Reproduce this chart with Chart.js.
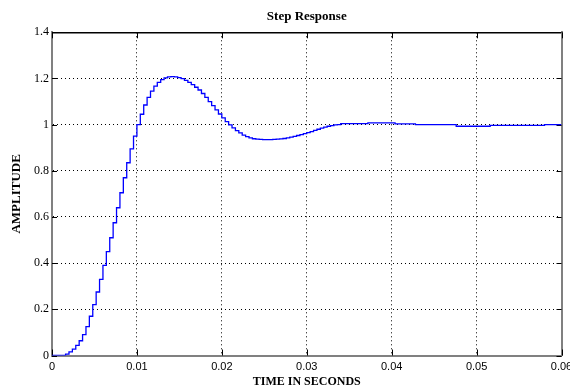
<!DOCTYPE html>
<html>
<head>
<meta charset="utf-8">
<title>Step Response</title>
<script src="https://cdn.jsdelivr.net/npm/chart.js@4.4.0/dist/chart.umd.min.js"></script>
<style>
    body { margin: 0; background: #fff; }
    #wrap { width: 570px; height: 391px; }
</style>
</head>
<body>
<div id="wrap"><canvas id="stepChart" width="570" height="391"></canvas></div>
<script>
// Step response (zero-order hold, one sample every 0.4 ms)
const sampleStep = 0.0004;
const amplitude = [
    0, 0, 0, 0, 0.006, 0.016, 0.028, 0.044, 0.064, 0.09,
    0.125, 0.17, 0.22, 0.275, 0.33, 0.39, 0.45, 0.51, 0.575, 0.64,
    0.705, 0.77, 0.835, 0.895, 0.95, 1.0, 1.045, 1.085, 1.118, 1.145,
    1.167, 1.183, 1.195, 1.203, 1.207, 1.208, 1.207, 1.204, 1.199, 1.192,
    1.183, 1.173, 1.162, 1.15, 1.135, 1.118, 1.1, 1.082, 1.064, 1.046,
    1.029, 1.013, 0.999, 0.986, 0.974, 0.964, 0.955, 0.948, 0.943, 0.939,
    0.937, 0.936, 0.935, 0.935, 0.935, 0.936, 0.937, 0.938, 0.94, 0.943,
    0.946, 0.949, 0.953, 0.957, 0.961, 0.965, 0.97, 0.975, 0.98, 0.985,
    0.989, 0.993, 0.996, 0.999, 1.0, 1.004, 1.004, 1.004, 1.004, 1.004,
    1.004, 1.004, 1.004, 1.008, 1.008, 1.008, 1.008, 1.008, 1.008, 1.008,
    1.008, 1.003, 1.003, 1.003, 1.003, 1.003, 1.003, 1.0, 1.0, 1.0,
    1.0, 1.0, 1.0, 1.0, 1.0, 1.0, 1.0, 1.0, 1.0, 0.993,
    0.993, 0.993, 0.993, 0.993, 0.993, 0.993, 0.993, 0.993, 0.993, 0.997,
    0.997, 0.997, 0.997, 0.997, 0.997, 0.997, 0.997, 0.997, 0.997, 0.997,
    0.997, 0.997, 0.997, 0.997, 0.997, 1.0, 1.0, 1.0, 1.0, 1.0,
    1.0
];

const xTicks = [0, 0.01, 0.02, 0.03, 0.04, 0.05, 0.06];
const xTickLabels = ['0', '0.01', '0.02', '0.03', '0.04', '0.05', '0.06'];
const yTicks = [0, 0.2, 0.4, 0.6, 0.8, 1, 1.2, 1.4];
const yTickLabels = ['0', '0.2', '0.4', '0.6', '0.8', '1', '1.2', '1.4'];

const points = amplitude.map((v, i) => ({ x: i * sampleStep, y: v }));

const serif = '"Liberation Serif", "Times New Roman", serif';
const sans = '"Liberation Sans", Arial, sans-serif';
const axisGrey = '#808080';

// MATLAB style tick marks pointing into the plot box
const innerTicks = {
    id: 'innerTicks',
    beforeDatasetsDraw(chart) {
        const { ctx, chartArea: a, scales: { x, y } } = chart;
        ctx.save();
        ctx.strokeStyle = '#000';
        ctx.lineWidth = 1;
        ctx.beginPath();
        xTicks.forEach(v => {
            const px = Math.round(x.getPixelForValue(v)) + 0.5;
            ctx.moveTo(px, a.bottom);
            ctx.lineTo(px, a.bottom - 6);
            ctx.moveTo(px, a.top);
            ctx.lineTo(px, a.top + 6);
        });
        yTicks.forEach(v => {
            const py = Math.round(y.getPixelForValue(v)) + 0.5;
            ctx.moveTo(a.left, py);
            ctx.lineTo(a.left + 5, py);
            ctx.moveTo(a.right, py);
            ctx.lineTo(a.right - 5, py);
        });
        ctx.stroke();
        ctx.restore();
    }
};

const ctx = document.getElementById('stepChart').getContext('2d');
new Chart(ctx, {
    type: 'line',
    data: {
        datasets: [{
            data: points,
            borderColor: '#0000ff',
            borderWidth: 1.3,
            stepped: true,
            pointRadius: 0,
            fill: false
        }]
    },
    options: {
        responsive: false,
        animation: false,
        layout: { padding: 0 },
        plugins: {
            legend: { display: false },
            tooltip: { enabled: false }
        },
        scales: {
            x: {
                type: 'linear',
                position: 'bottom',
                min: 0,
                max: 0.06,
                afterBuildTicks: s => { s.ticks = xTicks.map(v => ({ value: v })); },
                afterFit: s => {
                    s.height = 35.5;
                    // let the last label run off the edge like the original
                    s.paddingLeft = 0;
                    s.paddingRight = 0;
                },
                grid: { color: '#000', lineWidth: 1, drawTicks: false },
                border: { color: axisGrey, width: 2, dash: [1, 3] },
                ticks: {
                    color: '#000',
                    padding: 5,
                    maxRotation: 0,
                    font: { family: sans, size: 11 },
                    callback: (v, i) => xTickLabels[i]
                },
                title: {
                    display: true,
                    text: 'TIME IN SECONDS',
                    color: '#000',
                    padding: { top: 0, bottom: 2 },
                    font: { family: serif, size: 12, weight: 'bold' }
                }
            },
            top: {
                type: 'linear',
                position: 'top',
                min: 0,
                max: 0.06,
                afterFit: s => { s.height = 32.3; },
                grid: { drawOnChartArea: false, drawTicks: false },
                border: { color: '#000', width: 1.5 },
                ticks: { display: false },
                title: {
                    display: true,
                    text: 'Step Response',
                    color: '#000',
                    padding: { top: 9, bottom: 0 },
                    font: { family: serif, size: 13, weight: 'bold' }
                }
            },
            y: {
                type: 'linear',
                position: 'left',
                min: 0,
                max: 1.4,
                afterBuildTicks: s => { s.ticks = yTicks.map(v => ({ value: v })); },
                afterFit: s => { s.width = 52; },
                grid: { color: '#000', lineWidth: 1, drawTicks: false },
                border: { color: axisGrey, width: 2, dash: [1, 3] },
                ticks: {
                    color: '#000',
                    padding: 3,
                    font: { family: serif, size: 12 },
                    callback: (v, i) => yTickLabels[i]
                },
                title: {
                    display: true,
                    text: 'AMPLITUDE',
                    color: '#000',
                    padding: { top: 9, bottom: 0 },
                    font: { family: serif, size: 13, weight: 'bold' }
                }
            },
            right: {
                type: 'linear',
                position: 'right',
                min: 0,
                max: 1.4,
                afterFit: s => { s.width = 8.5; },
                grid: { drawOnChartArea: false, drawTicks: false },
                border: { color: axisGrey, width: 2 },
                ticks: { display: false }
            }
        }
    },
    plugins: [innerTicks]
});
</script>
</body>
</html>
